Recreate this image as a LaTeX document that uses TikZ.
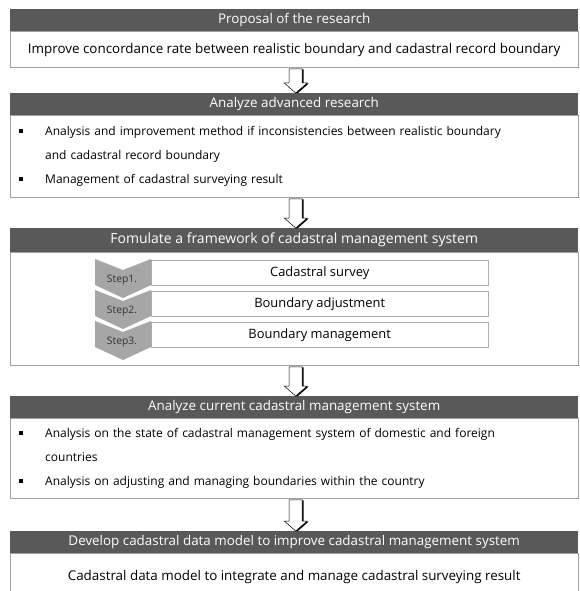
\documentclass[tikz,border=0pt]{standalone}
\usepackage{fontspec}
\setmainfont{Open Sans}
\usetikzlibrary{positioning,calc,shadows}

\definecolor{headgray}{RGB}{89,89,89}
\definecolor{framegray}{RGB}{160,160,160}
\definecolor{stepgray}{RGB}{166,166,166}
\definecolor{steptext}{RGB}{50,50,50}
\newcommand\sqbullet{\makebox[26pt][l]{\rule[2.5pt]{4pt}{4pt}}}

\begin{document}
\begin{tikzpicture}[x=1pt,y=-1pt,
  font=\fontsize{13.4}{24}\selectfont,
  head/.style={fill=headgray,text=white,minimum width=568pt,minimum height=22pt,
    inner sep=0pt,anchor=north west},
  body/.style={draw=framegray,fill=white,minimum width=568pt,inner sep=0pt,
    drop shadow={shadow xshift=0.8pt,shadow yshift=-0.8pt,fill=black!25,opacity=1}},
  itembody/.style={body,align=left,text width=550pt,inner xsep=9pt,
    font=\fontsize{12}{24}\selectfont},
  stepbox/.style={draw=framegray!85,fill=white,minimum width=337pt,minimum height=25pt,
    inner sep=0pt,anchor=north west,font=\fontsize{12.9}{15}\selectfont,
    drop shadow={shadow xshift=0.7pt,shadow yshift=-0.7pt,fill=black!20,opacity=1}},
  steplabel/.style={text=steptext,font=\fontsize{10.3}{12}\selectfont}
]
\useasboundingbox (0,0) rectangle (579,591);

% five stages, each a dark title bar over a framed body
\node[head] (h1) at (10,9) {Proposal of the research};
\node[body,below=0pt of h1,minimum height=36pt] (b1)
  {Improve concordance rate between realistic boundary and cadastral record boundary};

\node[head] (h2) at (10,93) {Analyze advanced research};
\node[itembody,below=0pt of h2,minimum height=82pt] (b2)
  {\sqbullet Analysis and improvement method if inconsistencies between realistic boundary\\
   \hspace*{26pt}and cadastral record boundary\\
   \sqbullet Management of cadastral surveying result};

\node[head,minimum height=24pt,font=\fontsize{14}{16}\selectfont] (h3) at (10,228)
  {Fomulate a framework of cadastral management system};
\node[body,below=0pt of h3,minimum height=113pt] (b3) {};

\node[head] (h4) at (10,396) {Analyze current cadastral management system};
\node[itembody,below=0pt of h4,minimum height=80pt] (b4)
  {\sqbullet Analysis on the state of cadastral management system of domestic and foreign\\
   \hspace*{26pt}countries\\
   \sqbullet Analysis on adjusting and managing boundaries within the country};

\node[head] (h5) at (10,531) {Develop cadastral data model to improve cadastral management system};
\node[body,below=0pt of h5,minimum height=47pt] (b5)
  {Cadastral data model to integrate and manage cadastral surveying result};

% steps inside the framework
\foreach \i/\txt in {1/Cadastral survey,2/Boundary adjustment,3/Boundary management} {
  \pgfmathsetmacro\ty{259+31*(\i-1)}
  \node[stepbox] (s\i) at (151,\ty+1) {\txt};
  \fill[stepgray] (95,\ty) -- (123,\ty+11) -- (151,\ty) -- (151,\ty+26)
    -- (123,\ty+39) -- (95,\ty+26) -- cycle;
  \node[steplabel] (l\i) at (122,\ty+21) {Step\i.};
}

% hollow arrows between the stages
\foreach \a/\b in {b1/h2,b2/h3,b3/h4,b4/h5} {
  \fill[black,transform canvas={xshift=1.5pt,yshift=-0.6pt}]
    ($(\a.south)+(-5,1)$) -- ($(\b.north)+(-5,-10)$) -- ($(\b.north)+(-10,-10)$)
    -- ($(\b.north)+(1.5,0)$) -- ($(\b.north)+(13,-10)$) -- ($(\b.north)+(8,-10)$)
    -- ($(\a.south)+(8,1)$) -- cycle;
  \filldraw[fill=white,line width=0.5pt]
    ($(\a.south)+(-5,1)$) -- ($(\b.north)+(-5,-10)$) -- ($(\b.north)+(-10,-10)$)
    -- ($(\b.north)+(1.5,0)$) -- ($(\b.north)+(13,-10)$) -- ($(\b.north)+(8,-10)$)
    -- ($(\a.south)+(8,1)$) -- cycle;
}
\end{tikzpicture}
\end{document}
